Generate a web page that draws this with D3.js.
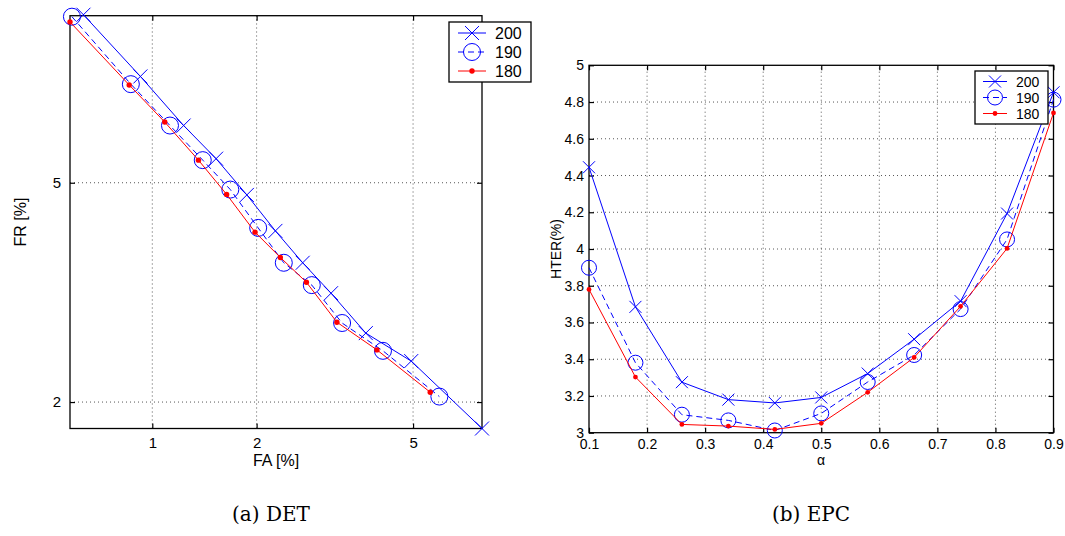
<!DOCTYPE html>
<html>
<head>
<meta charset="utf-8">
<script src="https://cdn.jsdelivr.net/npm/d3@7"></script>
<style>
    body { margin: 0; background: #fff; }
    svg text { font-family: 'Liberation Sans', Arial, Helvetica, sans-serif; fill: #000; }
    svg text.caption { font-family: 'DejaVu Serif', serif; }
</style>
</head>
<body>
<svg id="fig" width="1065" height="536"></svg>
<script>
const seriesNames = ['200', '190', '180'];

// DET: false acceptance / false rejection, in %
const detFA200 = [0.61, 0.92, 1.24, 1.54, 1.88, 2.25, 2.66, 3.15, 3.85, 4.95, 7.15];
const detFR200 = [9.15, 7.4, 6.2, 5.48, 4.77, 4.14, 3.64, 3.21, 2.71, 2.40, 1.773];
const detFA190 = [0.56, 0.86, 1.13, 1.41, 1.69, 2.02, 2.37, 2.81, 3.36, 4.24, 5.75];
const detFR190 = [9.09, 7.2, 6.2, 5.45, 4.87, 4.19, 3.64, 3.32, 2.83, 2.51, 2.05];
const detFA180 = [0.552, 0.85, 1.09, 1.37, 1.65, 1.98, 2.32, 2.72, 3.26, 4.10, 5.48];
const detFR180 = [8.93, 7.18, 6.28, 5.45, 4.78, 4.12, 3.72, 3.36, 2.84, 2.52, 2.09];
const detFALimits = [0.552, 7.15];
const detFRLimits = [1.773, 9.12];
const detFATicks = [1, 2, 5];
const detFRTicks = [2, 5];

// EPC: HTER (%) against alpha
const epcAlpha = [0.1, 0.18, 0.26, 0.34, 0.42, 0.5, 0.58, 0.66, 0.74, 0.82, 0.9];
const epcHter200 = [4.445, 3.685, 3.275, 3.18, 3.162, 3.192, 3.322, 3.509, 3.716, 4.193, 4.853];
const epcHter190 = [3.898, 3.381, 3.098, 3.067, 3.012, 3.105, 3.276, 3.423, 3.673, 4.052, 4.813];
const epcHter180 = [3.78, 3.303, 3.045, 3.036, 3.018, 3.051, 3.22, 3.41, 3.688, 4.003, 4.741];
const epcAlphaTicks = [0.1, 0.2, 0.3, 0.4, 0.5, 0.6, 0.7, 0.8, 0.9];
const epcHterTicks = [3, 3.2, 3.4, 3.6, 3.8, 4, 4.2, 4.4, 4.6, 4.8, 5];

const styles = {
    200: { color: '#0000ff', dash: null, marker: 'x' },
    190: { color: '#0000ff', dash: '6,4', marker: 'o' },
    180: { color: '#ff0000', dash: null, marker: 'dot' },
};

const sansFont = "'Liberation Sans', Arial, Helvetica, sans-serif";

// inverse normal cdf (Acklam), used for the DET axes
function probit(p) {
    const a = [-3.969683028665376e+01, 2.209460984245205e+02, -2.759285104469687e+02,
        1.383577518672690e+02, -3.066479806614716e+01, 2.506628277459239e+00];
    const b = [-5.447609879822406e+01, 1.615858368580409e+02, -1.556989798598866e+02,
        6.680131188771972e+01, -1.328068155288572e+01];
    const c = [-7.784894002430293e-03, -3.223964580411365e-01, -2.400758277161838e+00,
        -2.549732539343734e+00, 4.374664141464968e+00, 2.938163982698783e+00];
    const d = [7.784695709041462e-03, 3.224671290700398e-01, 2.445134137142996e+00,
        3.754408661907416e+00];
    const tail = (q) => (((((c[0] * q + c[1]) * q + c[2]) * q + c[3]) * q + c[4]) * q + c[5]) /
        ((((d[0] * q + d[1]) * q + d[2]) * q + d[3]) * q + 1);
    if (p < 0.02425) return tail(Math.sqrt(-2 * Math.log(p)));
    if (p > 1 - 0.02425) return -tail(Math.sqrt(-2 * Math.log(1 - p)));
    const q = p - 0.5;
    const r = q * q;
    return (((((a[0] * r + a[1]) * r + a[2]) * r + a[3]) * r + a[4]) * r + a[5]) * q /
        (((((b[0] * r + b[1]) * r + b[2]) * r + b[3]) * r + b[4]) * r + 1);
}

const svg = d3.select('#fig');

function drawMarker(g, type, cx, cy, color, size) {
    if (type === 'x') {
        const s = size.x;
        g.append('path')
            .attr('d', `M${cx - s},${cy - s}L${cx + s},${cy + s}M${cx - s},${cy + s}L${cx + s},${cy - s}`)
            .attr('stroke', color)
            .attr('stroke-width', 1)
            .attr('fill', 'none');
    } else if (type === 'o') {
        g.append('circle')
            .attr('cx', cx).attr('cy', cy).attr('r', size.o)
            .attr('stroke', color)
            .attr('stroke-width', 1)
            .attr('fill', 'none');
    } else {
        g.append('circle')
            .attr('cx', cx).attr('cy', cy).attr('r', size.dot)
            .attr('fill', color);
    }
}

function drawFrame(g, x, y, xTicks, yTicks, opt) {
    const [x0, x1] = x.range();
    const [y0, y1] = y.range();

    // dotted grid
    g.append('g').selectAll('line')
        .data(xTicks.filter((t) => x(t) > x0 + 1 && x(t) < x1 - 1))
        .enter().append('line')
        .attr('x1', (d) => x(d)).attr('x2', (d) => x(d))
        .attr('y1', y0).attr('y2', y1)
        .attr('stroke', '#444')
        .attr('stroke-width', 0.9)
        .attr('stroke-dasharray', '1,3');
    g.append('g').selectAll('line')
        .data(yTicks.filter((t) => y(t) < y0 - 1 && y(t) > y1 + 1))
        .enter().append('line')
        .attr('y1', (d) => y(d)).attr('y2', (d) => y(d))
        .attr('x1', x0).attr('x2', x1)
        .attr('stroke', '#444')
        .attr('stroke-width', 0.9)
        .attr('stroke-dasharray', '1,3');

    const bottom = g.append('g')
        .attr('transform', `translate(0,${y0})`)
        .call(d3.axisBottom(x).tickValues(xTicks).tickSize(-5).tickSizeOuter(0)
            .tickPadding(opt.xPad).tickFormat(opt.xFormat));
    const left = g.append('g')
        .attr('transform', `translate(${x0},0)`)
        .call(d3.axisLeft(y).tickValues(yTicks).tickSize(-5).tickSizeOuter(0)
            .tickPadding(opt.yPad).tickFormat(opt.yFormat));
    const top = g.append('g')
        .attr('transform', `translate(0,${y1})`)
        .call(d3.axisTop(x).tickValues(xTicks).tickSize(-5).tickSizeOuter(0).tickFormat(''));
    const right = g.append('g')
        .attr('transform', `translate(${x1},0)`)
        .call(d3.axisRight(y).tickValues(yTicks).tickSize(-5).tickSizeOuter(0).tickFormat(''));

    [bottom, left, top, right].forEach((a) => {
        a.attr('font-family', sansFont).attr('font-size', opt.fontSize);
        a.select('.domain').remove();
        a.selectAll('line').attr('stroke', '#000').attr('stroke-width', 1.2);
        a.selectAll('text')
            .style('font-size', `${opt.fontSize}px`)
            .style('font-family', sansFont)
            .attr('fill', '#000');
    });

    g.append('rect')
        .attr('x', x0).attr('y', y1)
        .attr('width', x1 - x0).attr('height', y0 - y1)
        .attr('fill', 'none')
        .attr('stroke', '#000')
        .attr('stroke-width', 1.3);
}

function drawSeries(g, xs, ys, x, y, name, size) {
    const st = styles[name];
    const pts = xs.map((v, i) => [x(v), y(ys[i])]);
    g.append('path')
        .attr('d', d3.line()(pts))
        .attr('fill', 'none')
        .attr('stroke', st.color)
        .attr('stroke-width', 1)
        .attr('stroke-dasharray', st.dash);
    pts.forEach((p) => drawMarker(g, st.marker, p[0], p[1], st.color, size));
}

function drawLegend(g, box, size) {
    g.append('rect')
        .attr('x', box.x).attr('y', box.y)
        .attr('width', box.w).attr('height', box.h)
        .attr('fill', '#fff')
        .attr('stroke', '#000')
        .attr('stroke-width', 1.3);
    seriesNames.forEach((name, i) => {
        const st = styles[name];
        const cy = box.y + box.rows[i];
        g.append('line')
            .attr('x1', box.x + box.line[0]).attr('x2', box.x + box.line[1])
            .attr('y1', cy).attr('y2', cy)
            .attr('stroke', st.color)
            .attr('stroke-width', 1)
            .attr('stroke-dasharray', st.dash);
        drawMarker(g, st.marker, box.x + (box.line[0] + box.line[1]) / 2, cy, st.color, size);
        g.append('text')
            .attr('x', box.x + box.text)
            .attr('y', cy)
            .attr('dy', '0.36em')
            .style('font-size', `${box.fontSize}px`)
            .text(name);
    });
}

function drawDET() {
    const g = svg.append('g').attr('class', 'det');
    const px = d3.scaleLinear()
        .domain(detFALimits.map((v) => probit(v / 100)))
        .range([70, 482]);
    const py = d3.scaleLinear()
        .domain(detFRLimits.map((v) => probit(v / 100)))
        .range([428.5, 15.7]);
    // wrap so ticks and data are given in %
    const x = (v) => px(probit(v / 100));
    x.range = () => px.range();
    x.copy = () => x;
    const y = (v) => py(probit(v / 100));
    y.range = () => py.range();
    y.copy = () => y;

    drawFrame(g, x, y, detFATicks, detFRTicks, {
        xPad: 9, yPad: 9, fontSize: 15, xFormat: (d) => d, yFormat: (d) => d,
    });

    const size = { x: 7, o: 8.5, dot: 2.7 };
    drawSeries(g, detFA200, detFR200, x, y, '200', size);
    drawSeries(g, detFA190, detFR190, x, y, '190', size);
    drawSeries(g, detFA180, detFR180, x, y, '180', size);

    g.append('text')
        .attr('x', 276).attr('y', 466)
        .attr('text-anchor', 'middle')
        .style('font-size', '16px')
        .text('FA [%]');
    g.append('text')
        .attr('transform', 'translate(26,222) rotate(-90)')
        .attr('text-anchor', 'middle')
        .style('font-size', '16px')
        .text('FR [%]');

    drawLegend(g, {
        x: 449, y: 22, w: 82, h: 60, rows: [11, 30, 49], line: [9, 37], text: 46, fontSize: 16,
    }, size);
}

function drawEPC() {
    const g = svg.append('g').attr('class', 'epc');
    const x = d3.scaleLinear().domain([0.1, 0.9]).range([589, 1053.5]);
    const y = d3.scaleLinear().domain([3, 5]).range([432.7, 65.3]);

    drawFrame(g, x, y, epcAlphaTicks, epcHterTicks, {
        xPad: 6, yPad: 5, fontSize: 14, xFormat: d3.format('.1f'), yFormat: (d) => d,
    });

    const size = { x: 6, o: 7.5, dot: 2.4 };
    drawSeries(g, epcAlpha, epcHter200, x, y, '200', size);
    drawSeries(g, epcAlpha, epcHter190, x, y, '190', size);
    drawSeries(g, epcAlpha, epcHter180, x, y, '180', size);

    g.append('text')
        .attr('x', 821).attr('y', 465)
        .attr('text-anchor', 'middle')
        .style('font-size', '14px')
        .text('α');
    g.append('text')
        .attr('transform', 'translate(561,249) rotate(-90)')
        .attr('text-anchor', 'middle')
        .style('font-size', '14px')
        .text('HTER(%)');

    drawLegend(g, {
        x: 975, y: 71, w: 73, h: 53, rows: [10.5, 26.5, 42.5], line: [8, 32], text: 41, fontSize: 14,
    }, size);
}

drawDET();
drawEPC();

svg.append('text')
    .attr('class', 'caption')
    .attr('x', 271).attr('y', 521)
    .attr('text-anchor', 'middle')
    .style('font-size', '20px')
    .text('(a) DET');
svg.append('text')
    .attr('class', 'caption')
    .attr('x', 811).attr('y', 521)
    .attr('text-anchor', 'middle')
    .style('font-size', '20px')
    .text('(b) EPC');
</script>
</body>
</html>
